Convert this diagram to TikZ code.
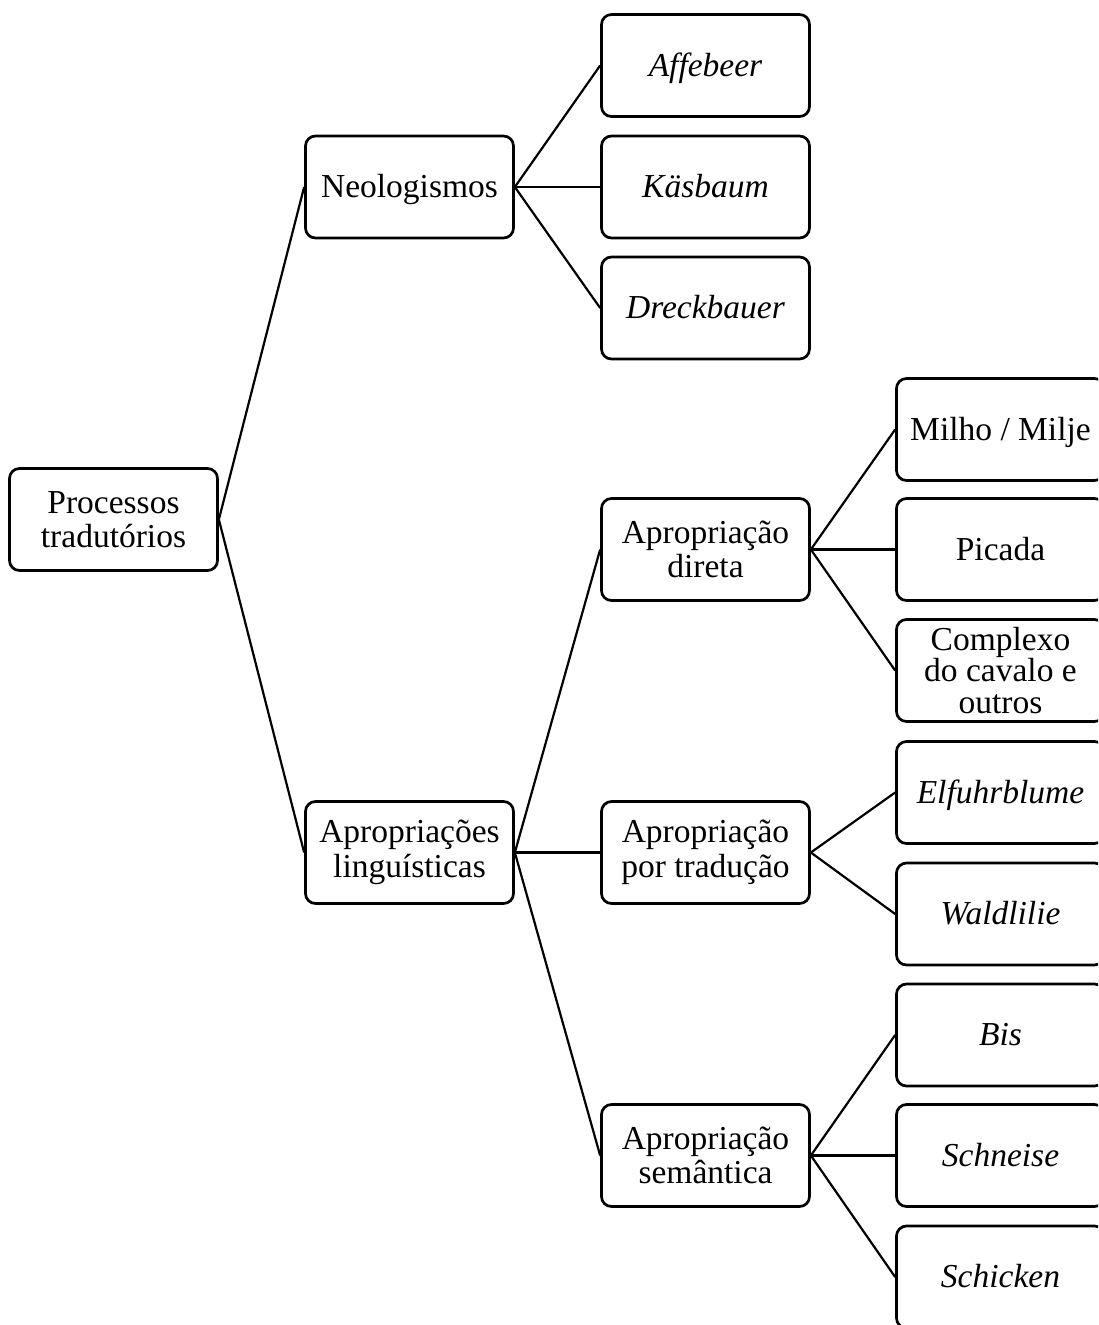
\documentclass[tikz,border=0pt]{standalone}
\usepackage{fontspec}
\setmainfont{Liberation Serif}
\begin{document}
\begin{tikzpicture}[x=1pt,y=-1pt,
  box/.style={draw=black, line width=2.7pt, rounded corners=10pt, fill=white,
    minimum width=208pt, minimum height=102pt, inner sep=0pt, align=center,
    font=\fontsize{33.5}{34.5}\selectfont},
  single/.style={text height=28pt, text depth=6.4pt},
  tight/.style={font=\fontsize{33.5}{31.5}\selectfont},
  link/.style={line width=2.2pt}]
\useasboundingbox (0,0) rectangle (1098,1325);
\clip (0,0) rectangle (1098,1325);
\fill[white] (0,0) rectangle (1098,1325);
% nodes
\node[box] (proc) at (113.5,519.5) {Processos\\tradutórios};
\node[box,single] (neo) at (409.5,187) {Neologismos};
\node[box] (apl) at (409.5,852.5) {Apropriações\\linguísticas};
\node[box,single] (aff) at (705.5,65.5) {\itshape Affebeer};
\node[box,single] (kas) at (705.5,187) {\itshape Käsbaum};
\node[box,single] (dre) at (705.5,308) {\itshape Dreckbauer};
\node[box] (adir) at (705.5,549.5) {Apropriação\\direta};
\node[box] (atra) at (705.5,852.5) {Apropriação\\por tradução};
\node[box] (asem) at (705.5,1155.5) {Apropriação\\semântica};
\node[box,single] (mil) at (1000.5,429.5) {Milho / Milje};
\node[box,single] (pic) at (1000.5,549.5) {Picada};
\node[box,tight] (com) at (1000.5,670.5) {Complexo\\do cavalo e\\outros};
\node[box,single] (elf) at (1000.5,792.5) {\itshape Elfuhrblume};
\node[box,single] (wal) at (1000.5,914) {\itshape Waldlilie};
\node[box,single] (bis) at (1000.5,1035) {\itshape Bis};
\node[box,single] (sch) at (1000.5,1155.5) {\itshape Schneise};
\node[box,single] (sck) at (1000.5,1277) {\itshape Schicken};
% connectors
\draw[link] (proc.east) -- (neo.west);
\draw[link] (proc.east) -- (apl.west);
\draw[link] (neo.east) -- (aff.west);
\draw[link] (neo.east) -- (kas.west);
\draw[link] (neo.east) -- (dre.west);
\draw[link] (apl.east) -- (adir.west);
\draw[link] (apl.east) -- (atra.west);
\draw[link] (apl.east) -- (asem.west);
\draw[link] (adir.east) -- (mil.west);
\draw[link] (adir.east) -- (pic.west);
\draw[link] (adir.east) -- (com.west);
\draw[link] (atra.east) -- (elf.west);
\draw[link] (atra.east) -- (wal.west);
\draw[link] (asem.east) -- (bis.west);
\draw[link] (asem.east) -- (sch.west);
\draw[link] (asem.east) -- (sck.west);
\end{tikzpicture}
\end{document}
